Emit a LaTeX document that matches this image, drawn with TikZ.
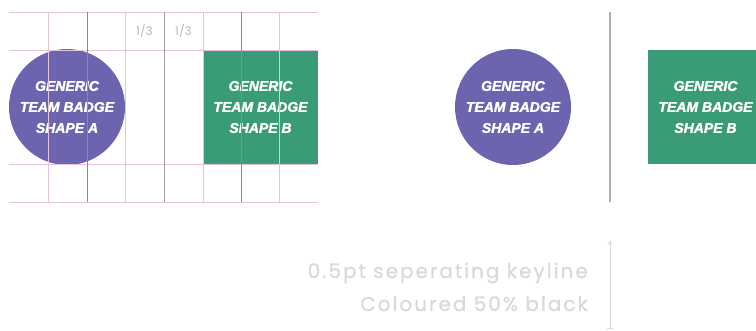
\documentclass[tikz,border=0pt]{standalone}
\usepackage{fontspec}
\setmainfont{Liberation Sans}
\newfontfamily\badgefont{Liberation Sans}[FakeBold=1.8]
\newfontfamily\notefont{Poppins}[LetterSpace=10,FakeBold=0.8]
\newfontfamily\thirdfont{Poppins}
\usetikzlibrary{arrows.meta}
\definecolor{badgepurple}{HTML}{6C64AE}
\definecolor{badgegreen}{HTML}{3A9B77}
\definecolor{gridpink}{HTML}{E7C3D9}
\definecolor{griddark}{HTML}{A678A4}
\definecolor{gridgray}{HTML}{A0A0A0}
\definecolor{notegray}{HTML}{D9D9D9}
\tikzset{
  x=1pt, y=1pt,
  badgetext/.style={text=white, align=center, font=\badgefont\fontsize{14}{21}\selectfont\bfseries\itshape, inner sep=0pt},
  circbadge/.style={circle, fill=badgepurple, minimum size=116pt, badgetext},
  sqbadge/.style={rectangle, fill=badgegreen, minimum width=115pt, minimum height=114pt, badgetext},
  gridline/.style={draw=gridpink, line width=0.9pt},
  griddarkline/.style={draw=griddark, line width=0.9pt},
  gridgrayline/.style={draw=gridgray, line width=0.8pt},
  thirdlabel/.style={text=notegray!85!black, font=\thirdfont\fontsize{12}{12}\selectfont},
  keyline/.style={draw=gridgray!85!white, line width=1.2pt},
  notetext/.style={text=notegray, align=right, font=\notefont\fontsize{20}{33}\selectfont, inner sep=0pt, anchor=east},
  notearrow/.style={draw=notegray, line width=0.8pt, -{Stealth[length=5pt,width=4pt]}}
}
\begin{document}
\begin{tikzpicture}
\useasboundingbox (0,0) rectangle (756,-331);
% left panel shapes
\node[circbadge] (ca) at (67,-107) {GENERIC\\TEAM BADGE\\SHAPE A};
\node[sqbadge] (sb) at (260.5,-107) {GENERIC\\TEAM BADGE\\SHAPE B};
% grid
\foreach \yy [count=\i] in {12,50,164,202} {
  \coordinate (hl\i) at (9,-\yy);
  \coordinate (hr\i) at (318,-\yy);
  \draw[gridline] (hl\i) -- (hr\i);
}
\foreach \xx [count=\i] in {48,125,203,279} {
  \coordinate (vt\i) at (\xx,-12);
  \coordinate (vb\i) at (\xx,-202);
  \draw[gridline] (vt\i) -- (vb\i);
}
\foreach \xx [count=\i] in {87,241} {
  \coordinate (dt\i) at (\xx,-12);
  \coordinate (db\i) at (\xx,-202);
  \draw[griddarkline] (dt\i) -- (db\i);
}
\coordinate (mt) at (164,-12);
\coordinate (mb) at (164,-202);
\draw[gridgrayline] (mt) -- (mb);
\node[thirdlabel] (t1) at (144.5,-31) {1/3};
\node[thirdlabel] (t2) at (183.5,-31) {1/3};
% right panel
\node[circbadge] (ca2) at (513,-107) {GENERIC\\TEAM BADGE\\SHAPE A};
\node[sqbadge] (sb2) at (705.5,-107) {GENERIC\\TEAM BADGE\\SHAPE B};
\coordinate (kt) at (610,-12);
\coordinate (kb) at (610,-202);
\draw[keyline] (kt) -- (kb);
% note
\node[notetext] (note) at (588,-287) {0.5pt seperating keyline\\Coloured 50\% black};
\coordinate (at) at (610,-240);
\coordinate (ab) at (610,-328);
\draw[notearrow] (ab) -- (at);
\coordinate (fl) at (607,-328);
\coordinate (fr) at (613,-328);
\draw[draw=notegray, line width=0.8pt] (fl) -- (fr);
\end{tikzpicture}
\end{document}
